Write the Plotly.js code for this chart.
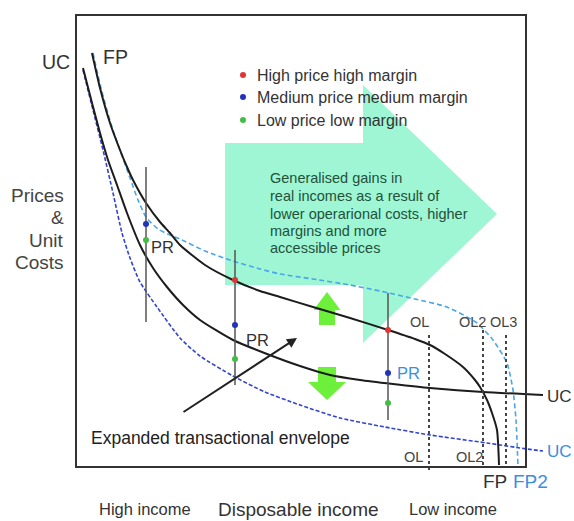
<!DOCTYPE html>
<html>
<head>
<meta charset="utf-8">
<script src="https://cdn.plot.ly/plotly-3.0.1.min.js"></script>
<style>html,body{margin:0;padding:0;background:#fff;}#chart{width:574px;height:521px;}</style>
</head>
<body>
<div id="chart"></div>
<script>
// ---- Data (income index x, price / cost index y) ----
const fpX  = [16,24,34,44,51,57,70,84,94,104,129,157,184,204,237,274,312,339,354,369,387,399,404,411,416,421,423];
const fpY  = [414,379,344,317,300,287,264,245,234,222,202,187,176,170,160,149,137,128,122,113,100,87,80,67,54,37,2];
const ucX  = [7,16,24,32,41,51,64,77,91,107,124,157,191,224,254,284,317,354,407,467];
const ucY  = [399,364,334,307,282,254,222,199,180,162,147,127,113,101,92,87,83,79,75,72];
const fp2X = [17,25,35,45,54,62,70,82,94,104,129,157,184,204,237,274,304,339,371,401,417,431,437,440,442];
const fp2Y = [414,379,343,314,289,267,250,238,232,228,216,206,198,193,188,182,176,168,160,144,127,104,77,47,0];
const uc2X = [7,17,27,37,46,54,64,81,104,124,157,189,224,264,309,354,411,451,467];
const uc2Y = [397,357,317,274,234,209,185,160,129,111,91,75,62,49,40,32,24,18,16];

// price ranges (PR) at three income levels
const prX    = [70,159,312];
const prTop  = [300,217,174];
const prBot  = [145,82,47];
const highY  = [null,187,137];
const medY   = [243,142,94];
const lowY   = [227,108,64];

// operating limits OL, OL2, OL3
const olX    = [353,407,430];
const olTop  = [132,137,132];
const olBot  = [-5,0,0];

const legendLabels = ['High price high margin','Medium price medium margin','Low price low margin'];
const legendColors = ['#e03535','#2233bb','#44bb44'];

// ---- Build traces ----
const traces = [];
// big "generalised gains" arrow
traces.push({x:[149,287,287,421,287,287,149,149], y:[324,324,382,253,124,182,182,324],
  mode:'lines', fill:'toself', fillcolor:'rgb(158,246,212)', line:{width:0}, hoverinfo:'skip'});
// small green up / down arrows
traces.push({x:[251,264.5,259,259,243,243,237.5,251], y:[175,157,157,142,142,157,157,175],
  mode:'lines', fill:'toself', fillcolor:'#6cf03a', line:{width:0}, hoverinfo:'skip'});
traces.push({x:[242,260,260,270,251,232,242,242], y:[100,100,85,85,67,85,85,100],
  mode:'lines', fill:'toself', fillcolor:'#6cf03a', line:{width:0}, hoverinfo:'skip'});

// curves
traces.push({x:fp2X, y:fp2Y, mode:'lines', line:{color:'#4aa6e6', width:1.6, dash:'5px,3px', shape:'spline', smoothing:0.6}});
traces.push({x:uc2X, y:uc2Y, mode:'lines', line:{color:'#3344cc', width:1.6, dash:'4px,2px', shape:'spline', smoothing:0.6}});
traces.push({x:ucX, y:ucY, mode:'lines', line:{color:'#1c1c1c', width:2, shape:'spline', smoothing:0.6}});
traces.push({x:fpX, y:fpY, mode:'lines', line:{color:'#1c1c1c', width:2, shape:'spline', smoothing:0.6}});

// PR vertical lines
prX.forEach((x,i)=>{
  traces.push({x:[x,x], y:[prTop[i],prBot[i]], mode:'lines', line:{color:'#555', width:1.5}});
});
// OL dotted lines
olX.forEach((x,i)=>{
  traces.push({x:[x,x], y:[olTop[i],olBot[i]], mode:'lines', line:{color:'#444', width:2, dash:'dot'}});
});
// price/margin dots
traces.push({x:prX, y:highY, mode:'markers', marker:{color:legendColors[0], size:6}});
traces.push({x:prX, y:medY,  mode:'markers', marker:{color:legendColors[1], size:6}});
traces.push({x:prX, y:lowY,  mode:'markers', marker:{color:legendColors[2], size:6}});
// legend dots
traces.push({x:[167,167,167], y:[392,370,347], mode:'markers', marker:{color:legendColors, size:6}});

const F = 'Liberation Sans, Arial, sans-serif';
function t(x,y,text,size,color,xanchor){
  return {x:x, y:y, xref:'x', yref:'y', text:text, showarrow:false,
    font:{family:F, size:size, color:color||'#333'}, xanchor:xanchor||'center', yanchor:'middle'};
}
const ann = [
  t(-4,405,'UC',19.5,'#333','right'),
  t(39,410,'FP',19.5,'#333'),
  t(-10,272,'Prices',19,'#444','right'),
  t(-10,250,'&',19,'#444','right'),
  t(-10,227,'Unit',19,'#444','right'),
  t(-10,205,'Costs',19,'#444','right'),
  t(69,-42,'High income',16.5,'#333'),
  t(222,-42,'Disposable income',19,'#333'),
  t(377,-42,'Low income',16.5,'#333'),
  t(179,392,legendLabels[0],16,'#333','left'),
  t(179,370,legendLabels[1],16,'#333','left'),
  t(179,347,legendLabels[2],16,'#333','left'),
  t(192,289,'Generalised gains in',14.5,'#24513a','left'),
  t(192,271,'real incomes as a result of',14.5,'#24513a','left'),
  t(192,253,'lower operarional costs, higher',14.5,'#24513a','left'),
  t(192,236,'margins and more',14.5,'#24513a','left'),
  t(192,219,'accessible prices',14.5,'#24513a','left'),
  t(86,220,'PR',16.5,'#333'),
  t(181,127,'PR',16.5,'#333'),
  t(332,94,'PR',16.5,'#3a8ee0'),
  t(144,29,'Expanded transactional envelope',17.5,'#222'),
  t(343,145,'OL',14.5,'#444'),
  t(396,145,'OL2',14.5,'#444'),
  t(427,145,'OL3',14.5,'#444'),
  t(337,10,'OL',14.5,'#444'),
  t(393,10,'OL2',14.5,'#444'),
  t(419,-14,'FP',19,'#333'),
  t(454,-14,'FP2',19,'#3a8ee0'),
  t(469,71,'UC',17,'#333','left'),
  t(469,16,'UC',17,'#3a8ee0','left'),
  {x:221, y:129, ax:106, ay:54, xref:'x', yref:'y', axref:'x', ayref:'y', text:'', showarrow:true,
   arrowhead:2, arrowsize:1, arrowwidth:2, arrowcolor:'#222', standoff:0}
];

const layout = {
  width:574, height:521, margin:{l:0,r:0,t:0,b:0},
  paper_bgcolor:'#fff', plot_bgcolor:'#fff', showlegend:false,
  xaxis:{range:[-76,498], visible:false, fixedrange:true},
  yaxis:{range:[-54,467], visible:false, fixedrange:true},
  shapes:[{type:'rect', xref:'x', yref:'y', x0:0, x1:450, y0:0, y1:452, line:{color:'#333', width:2}, layer:'above'}],
  annotations:ann
};
Plotly.newPlot('chart', traces, layout, {staticPlot:true, displayModeBar:false});
</script>
</body>
</html>
